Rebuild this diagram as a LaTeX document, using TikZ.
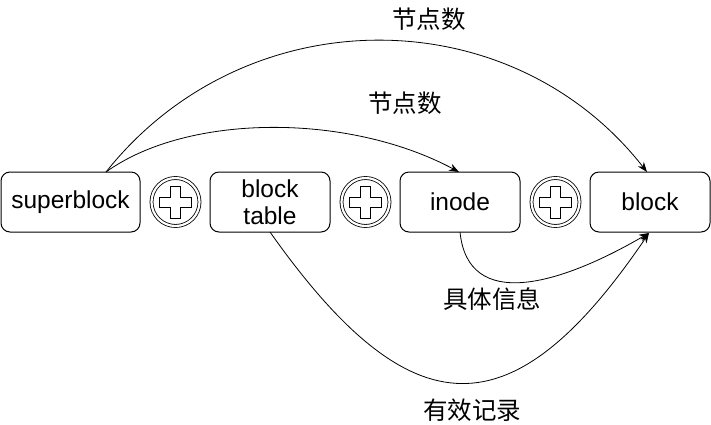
\documentclass[tikz,border=0pt]{standalone}
\usepackage{fontspec}
\setmainfont{Liberation Sans}
\newfontfamily\cjk{Noto Sans CJK SC}
\usetikzlibrary{arrows.meta}
\begin{document}
\begin{tikzpicture}[x=1pt,y=-1pt,
  box/.style={draw,line width=1pt,rounded corners=9pt,minimum width=120pt,minimum height=60pt,inner sep=0pt,align=center,font=\fontsize{24.5}{27}\selectfont},
  orplus/.style={draw,circle,line width=0.8pt,double,double distance=2.2pt,minimum size=48pt,inner sep=0pt},
  lbl/.style={font=\cjk\fontsize{24.5}{28}\selectfont,inner sep=0pt},
  conn/.style={line width=0.8pt,-{Stealth[length=10pt,width=7.5pt]}}]
\useasboundingbox (0,0) rectangle (711,424);
\node[box,minimum width=139pt] (sb) at (70.5,202) {superblock};
\node[box] (bt) at (270,202) {block\\table};
\node[box] (in) at (460,202) {inode};
\node[box] (bk) at (650,202) {block};
\foreach \n/\x in {p1/175.5,p2/365.5,p3/555.5}{
  \node[orplus] (\n) at (\x,202) {};
  \draw[line width=0.8pt] ([shift={(-5,-16)}]\n.center) -- ++(10,0) -- ++(0,11) -- ++(11,0) -- ++(0,10) -- ++(-11,0) -- ++(0,11) -- ++(-10,0) -- ++(0,-11) -- ++(-11,0) -- ++(0,-10) -- ++(11,0) -- cycle;
}
\coordinate (sbt) at (106,172);
\coordinate (bkt) at (647,172);
\coordinate (int) at (459,172);
\coordinate (inb) at (460,232);
\coordinate (btb) at (270,232);
\coordinate (bkb) at (649,233);
\draw[conn] (sbt) .. controls (245,-3) and (510,-3) .. (bkt);
\draw[conn] (sbt) .. controls (188,113) and (349,113) .. (int);
\draw[conn] (inb) .. controls (468,312) and (560,285) .. (bkb);
\draw[conn] (btb) .. controls (412,433) and (513,433) .. (bkb);
\node[lbl] (l1) at (429,19) {节点数};
\node[lbl] (l2) at (405,103) {节点数};
\node[lbl] (l3) at (492,299) {具体信息};
\node[lbl] (l4) at (472,410) {有效记录};
\end{tikzpicture}
\end{document}
